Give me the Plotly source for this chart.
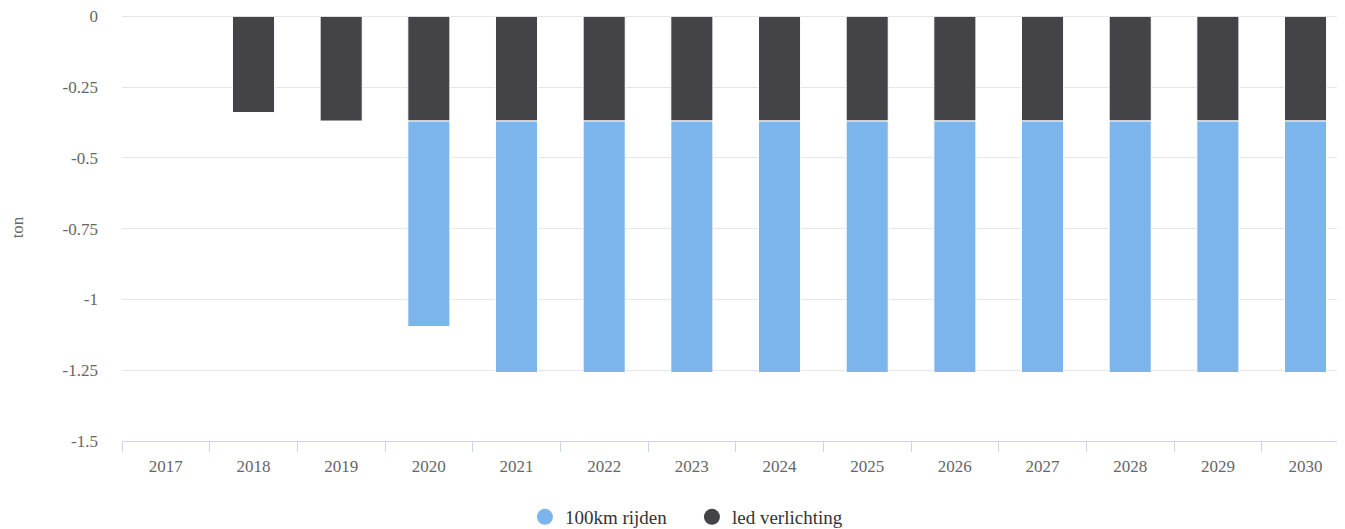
import plotly.graph_objects as go

years = ["2017", "2018", "2019", "2020", "2021", "2022", "2023", "2024", "2025", "2026", "2027", "2028", "2029", "2030"]
led_verlichting = [None, -0.34, -0.37, -0.37, -0.37, -0.37, -0.37, -0.37, -0.37, -0.37, -0.37, -0.37, -0.37, -0.37]
km100_rijden = [None, None, None, -0.726, -0.888, -0.888, -0.888, -0.888, -0.888, -0.888, -0.888, -0.888, -0.888, -0.888]
y_ticks = [0, -0.25, -0.5, -0.75, -1, -1.25, -1.5]
y_tick_text = ["0", "-0.25", "-0.5", "-0.75", "-1", "-1.25", "-1.5"]

c_blue = "#7cb5ec"
c_dark = "#434348"
font_fam = "Liberation Serif"

fig = go.Figure()
fig.add_trace(go.Bar(x=years, y=led_verlichting, name="led verlichting", marker=dict(color=c_dark, line=dict(color="#ffffff", width=1)), showlegend=False))
fig.add_trace(go.Bar(x=years, y=km100_rijden, name="100km rijden", marker=dict(color=c_blue, line=dict(color="#ffffff", width=1)), showlegend=False))
# legend entries with circle symbols
fig.add_trace(go.Scatter(x=[None], y=[None], mode="markers", name="100km rijden", marker=dict(color=c_blue, size=19, symbol="circle")))
fig.add_trace(go.Scatter(x=[None], y=[None], mode="markers", name="led verlichting", marker=dict(color=c_dark, size=19, symbol="circle")))

fig.update_layout(
    width=1337, height=521,
    margin=dict(l=114, r=0, t=6, b=88, autoexpand=False),
    barmode="relative",
    bargap=0.52,
    plot_bgcolor="white",
    paper_bgcolor="white",
    font=dict(family=font_fam, color="#666666", size=17),
    legend=dict(orientation="h", x=0.466, xanchor="center", y=-0.178, yanchor="middle",
                font=dict(size=19, color="#333333", family=font_fam), itemsizing="trace",
                traceorder="normal", entrywidth=122, entrywidthmode="pixels"),
    xaxis=dict(type="category", range=[-0.5, 13.45], showline=True, linecolor="#ccd6eb", linewidth=1,
               ticks="outside", tickson="boundaries", ticklen=10, tickcolor="#ccd6eb",
               showgrid=False, tickfont=dict(size=17, color="#666666"), ticklabelstandoff=10,
               automargin=False),
    yaxis=dict(range=[-1.5, 0.008], tickvals=y_ticks, ticktext=y_tick_text, showgrid=True,
               gridcolor="#e6e6e6", gridwidth=1, zeroline=False, showline=False,
               ticks="", ticklabelstandoff=23, tickfont=dict(size=17, color="#666666"),
               ticklabeloverflow="allow",
               title=dict(text="ton", font=dict(size=17, color="#666666"), standoff=42),
               automargin=False),
)
fig.write_html("out.html")
